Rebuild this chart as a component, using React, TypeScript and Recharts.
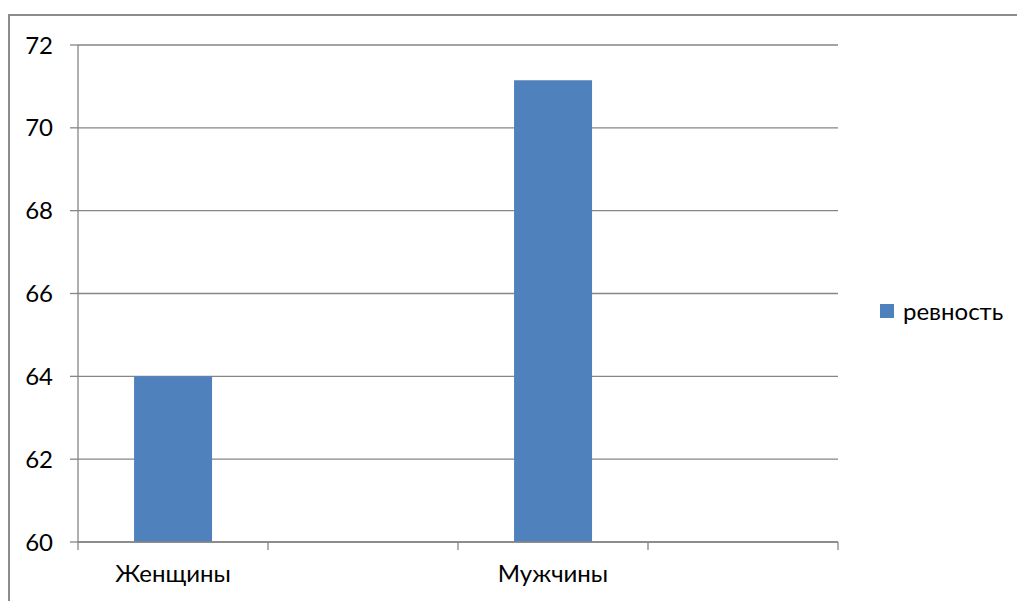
import React from 'react';
import { BarChart, Bar, XAxis, YAxis, CartesianGrid, Legend } from 'recharts';

const categories = ['Женщины', '', 'Мужчины', ''];
const jealousy = [64, null, 71.15, null];
const yTicks = [60, 62, 64, 66, 68, 70, 72];
const seriesName = 'ревность';

const data = categories.map((c, i) => ({ cat: c, v: jealousy[i] }));

const FONT = 'Lato, "Open Sans", sans-serif';
const AXIS = '#868686';
const BAR = '#4f81bd';
const X_TICK_SIZE = 6;
const X_TICK_MARGIN = 17;
const EDGE_TICK = 8;

const LegendContent = () => (
  <div style={{ display: 'flex', alignItems: 'center', fontFamily: FONT, fontSize: 24, color: '#000' }}>
    <span style={{ display: 'inline-block', width: 14, height: 14, background: BAR, marginRight: 9 }} />
    <span>{seriesName}</span>
  </div>
);

const CatTick = (props: any) => {
  const { x, y, payload, index, visibleTicksCount } = props;
  const off = payload && payload.offset ? payload.offset : 0;
  const axisY = y - X_TICK_SIZE - X_TICK_MARGIN;
  const isLast = index === (visibleTicksCount ?? categories.length) - 1;
  return (
    <g>
      <line x1={x - off} x2={x - off} y1={axisY} y2={axisY + EDGE_TICK} stroke={AXIS} strokeWidth={1.3} />
      {isLast && <line x1={x + off} x2={x + off} y1={axisY} y2={axisY + EDGE_TICK} stroke={AXIS} strokeWidth={1.3} />}
      <text x={x} y={y} dy="0.71em" textAnchor="middle" fontFamily={FONT} fontSize={24} fill="#000">
        {payload.value}
      </text>
    </g>
  );
};

export default function App() {
  return (
    <div style={{ position: 'absolute', left: 0, top: 0, width: 1017, height: 601, overflow: 'hidden', background: '#fff' }}>
      <div style={{ position: 'absolute', left: 8, top: 14, width: 1100, height: 700, border: '2px solid #8c8c8c', boxSizing: 'border-box' }} />
      <div style={{ position: 'absolute', left: 0, top: 0 }}>
        <BarChart width={1017} height={601} data={data} margin={{ top: 45, right: 42, bottom: 9, left: 8 }} barCategoryGap="29.5%">
          <CartesianGrid horizontal vertical={false} stroke={AXIS} strokeWidth={1.3} />
          <XAxis dataKey="cat" tickLine={false} axisLine={{ stroke: AXIS, strokeWidth: 1.3 }} tickSize={X_TICK_SIZE} tickMargin={X_TICK_MARGIN} height={50} interval={0} tick={<CatTick />} />
          <YAxis domain={[60, 72]} ticks={yTicks} width={70} tickSize={8} tickMargin={17} stroke={AXIS} axisLine={{ stroke: AXIS, strokeWidth: 1.3 }} tickLine={{ stroke: AXIS, strokeWidth: 1.3 }} tick={{ fontFamily: FONT, fontSize: 24, fill: '#000' }} />
          <Legend layout="vertical" align="right" verticalAlign="middle" content={<LegendContent />} wrapperStyle={{ position: 'absolute', left: 880, top: 296, width: 137 }} />
          <Bar dataKey="v" name={seriesName} fill={BAR} isAnimationActive={false} />
        </BarChart>
      </div>
    </div>
  );
}
